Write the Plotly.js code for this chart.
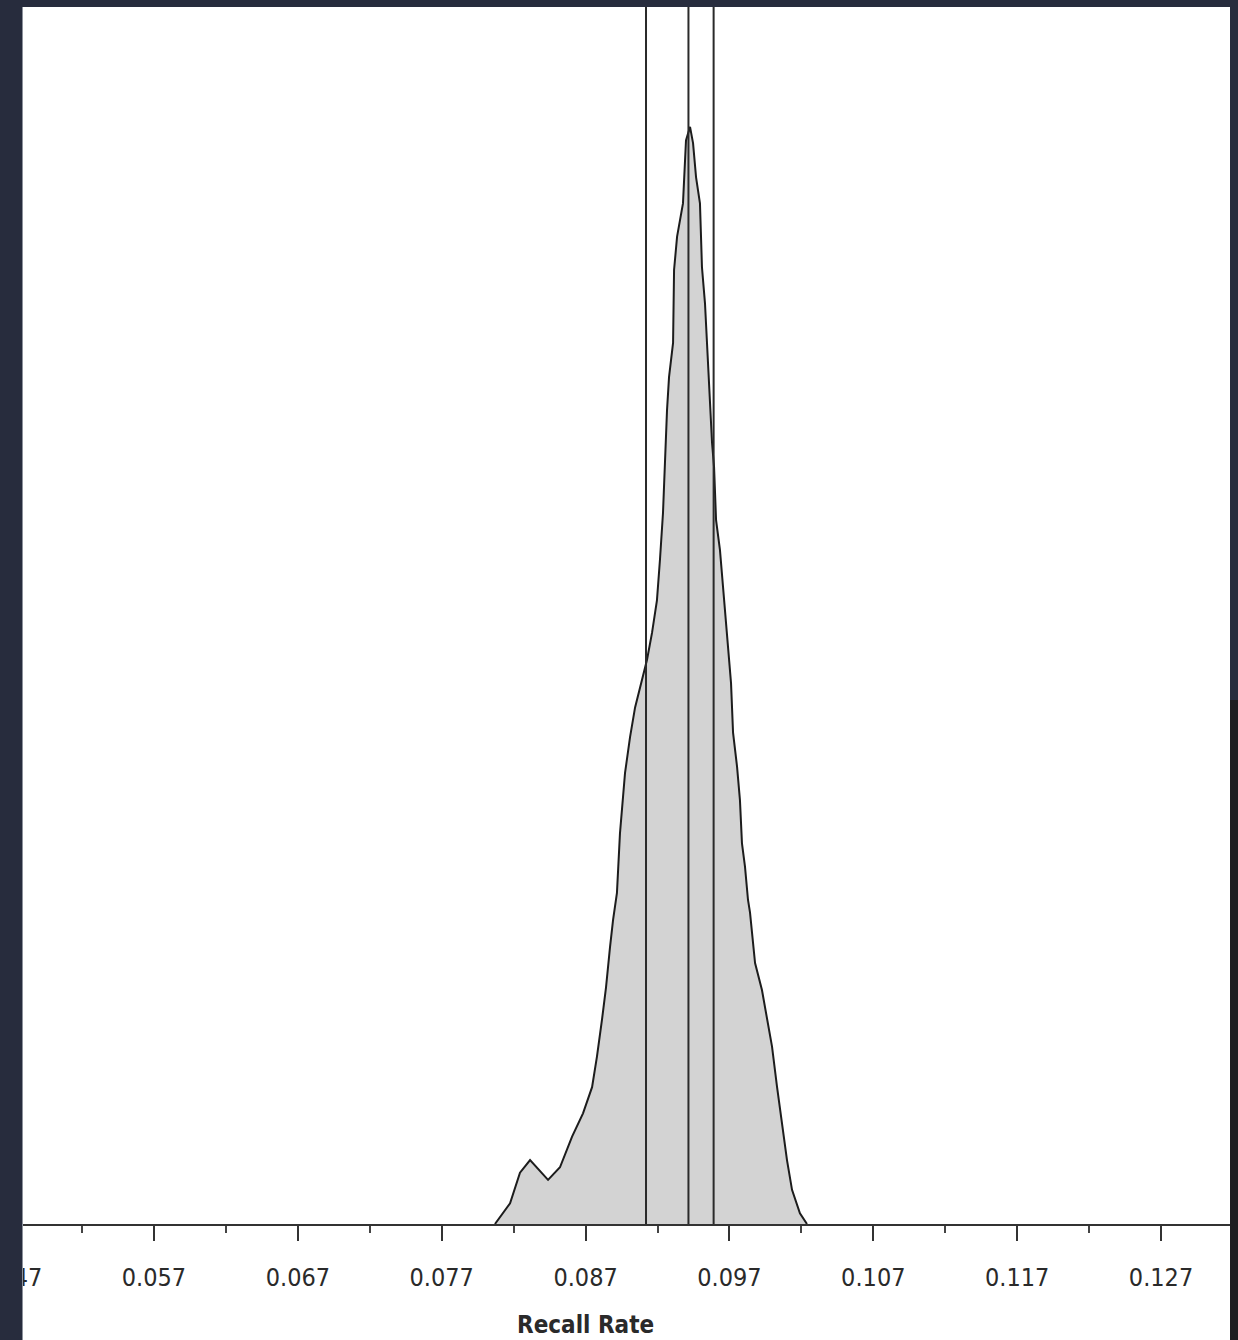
<!DOCTYPE html>
<html>
<head>
<meta charset="utf-8">
<script src="https://cdn.plot.ly/plotly-3.0.1.min.js"></script>
<style>
  html, body { margin: 0; padding: 0; background: #272c3d; }
  #wrap { position: relative; width: 1238px; height: 1340px; overflow: hidden; }
  #chart { position: absolute; left: 0; top: 0; width: 1238px; height: 1340px; background: #ffffff; }
  .frame { position: absolute; z-index: 10; }
</style>
</head>
<body>
<div id="wrap">
  <div id="chart"></div>
  <div class="frame" style="left:0;top:0;width:1238px;height:7px;background:#272c3d;"></div>
  <div class="frame" style="left:0;top:0;width:22px;height:1340px;background:#272c3d;"></div>
  <div class="frame" style="left:22px;top:7px;width:1px;height:1333px;background:#8d929c;"></div>
  <div class="frame" style="left:1230px;top:0;width:8px;height:700px;background:#272c3d;"></div>
  <div class="frame" style="left:1230px;top:700px;width:8px;height:640px;background:#1f1f22;"></div>
</div>
<script>
// Simulated distribution of the recall rate (kernel density outline)
const recallRate = [
  0.08070, 0.08175, 0.08244, 0.08314, 0.08439, 0.08522, 0.08606, 0.08682,
  0.08745, 0.08779, 0.08814, 0.08842, 0.08870, 0.08891, 0.08918, 0.08939,
  0.08974, 0.09009, 0.09044, 0.09092, 0.09127, 0.09162, 0.09196, 0.09217,
  0.09238, 0.09266, 0.09280, 0.09308, 0.09315, 0.09336, 0.09377, 0.09398,
  0.09426, 0.09447, 0.09468, 0.09495, 0.09509, 0.09530, 0.09544, 0.09565,
  0.09579, 0.09593, 0.09607, 0.09634, 0.09655, 0.09683, 0.09711, 0.09725,
  0.09753, 0.09773, 0.09787, 0.09808, 0.09829, 0.09843, 0.09878, 0.09926,
  0.09961, 0.09996, 0.10031, 0.10065, 0.10100, 0.10135, 0.10190, 0.10239
];
const density = [
  0.0, 2.3, 5.7, 7.1, 4.9, 6.3, 9.7, 12.3,
  15.2, 18.6, 22.7, 26.3, 30.8, 33.8, 36.8, 43.4,
  50.1, 54.1, 57.4, 60.4, 62.7, 65.7, 69.3, 73.8,
  79.0, 90.4, 94.1, 97.9, 106.0, 109.7, 113.4, 120.4,
  121.9, 120.1, 116.3, 113.4, 106.3, 102.3, 97.9, 91.2,
  86.8, 84.1, 78.2, 74.9, 70.8, 65.7, 60.1, 54.6,
  50.8, 47.1, 42.3, 39.7, 36.0, 34.6, 29.0, 26.0,
  22.7, 19.7, 15.2, 11.2, 7.1, 3.8, 1.2, 0.0
];

// Reference markers (lower bound, centre, upper bound)
const markerLines = [0.0912, 0.09415, 0.0959];

// Axis ticks
const tickValues = [0.047, 0.057, 0.067, 0.077, 0.087, 0.097, 0.107, 0.117, 0.127];
const tickLabels = ["0.047", "0.057", "0.067", "0.077", "0.087", "0.097", "0.107", "0.117", "0.127"];
const axisTitle = "Recall Rate";

const xRange = [0.046295, 0.13235];
const yRange = [0, 136];

const shapes = markerLines.map(v => ({
  type: "line", xref: "x", yref: "paper",
  x0: v, x1: v, y0: 0, y1: 1,
  line: { color: "#2a2a2a", width: 2 }
}));

const trace = {
  type: "scatter", mode: "lines",
  x: recallRate, y: density,
  fill: "tozeroy", fillcolor: "#d3d3d3",
  line: { color: "#1c1c1c", width: 2, shape: "linear" },
  hoverinfo: "skip"
};

const layout = {
  width: 1238, height: 1340,
  margin: { l: 0, r: 0, t: 0, b: 116, pad: 0 },
  paper_bgcolor: "#ffffff", plot_bgcolor: "#ffffff",
  showlegend: false,
  font: { family: "DejaVu Sans Condensed, DejaVu Sans, sans-serif", color: "#2a2a2a" },
  xaxis: {
    range: xRange, showgrid: false, zeroline: false,
    showline: true, linecolor: "#333333", linewidth: 2,
    tickmode: "array", tickvals: tickValues, ticktext: tickLabels,
    ticks: "outside", ticklen: 15, tickwidth: 2, tickcolor: "#333333",
    tickfont: { family: "DejaVu Sans Condensed, DejaVu Sans, sans-serif", size: 25, color: "#2a2a2a" },
    ticklabeloverflow: "allow",
    minor: { dtick: 0.01, tick0: 0.052, ticks: "outside", ticklen: 7, tickwidth: 2, tickcolor: "#444444", showgrid: false },
    ticklabelstandoff: 15,
    fixedrange: true
  },
  yaxis: { range: yRange, visible: false, showgrid: false, zeroline: false, fixedrange: true },
  shapes: shapes,
  annotations: [{
    text: axisTitle, xref: "paper", yref: "paper",
    x: 585 / 1238, y: -101 / 1224, xanchor: "center", yanchor: "middle",
    showarrow: false,
    font: { family: "DejaVu Sans Condensed, DejaVu Sans, sans-serif", size: 24, color: "#2a2a2a", weight: "bold" }
  }]
};

Plotly.newPlot("chart", [trace], layout, { staticPlot: true, displayModeBar: false });
</script>
</body>
</html>
